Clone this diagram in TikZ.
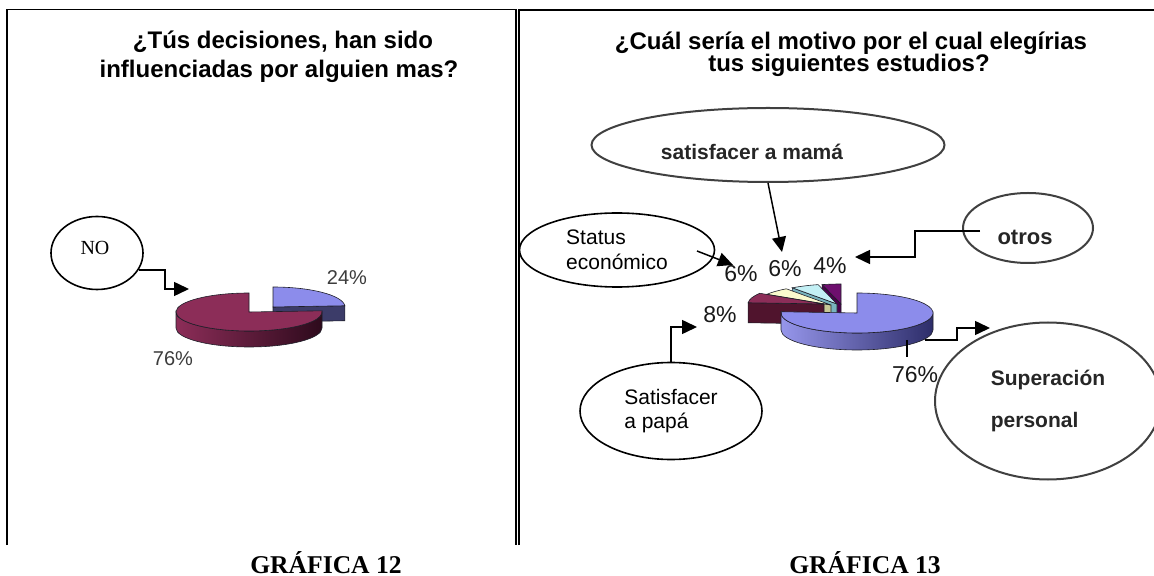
\documentclass[tikz,border=0pt]{standalone}
\usepackage{fontspec}
\setmainfont{Liberation Sans}
\newfontfamily\serifF{Liberation Serif}
\usetikzlibrary{shapes.geometric,arrows.meta,calc}
\definecolor{pieline}{RGB}{30,30,40}
\definecolor{bluT}{RGB}{140,140,235}
\definecolor{bluD}{RGB}{60,60,105}
\definecolor{bluL}{RGB}{150,150,235}
\definecolor{bluDD}{RGB}{45,45,105}
\definecolor{marT}{RGB}{140,45,88}
\definecolor{marL}{RGB}{140,45,88}
\definecolor{marD}{RGB}{45,10,28}
\definecolor{marF}{RGB}{80,20,45}
\definecolor{yelT}{RGB}{250,250,205}
\definecolor{yelF}{RGB}{200,200,150}
\definecolor{cyaT}{RGB}{195,240,245}
\definecolor{cyaF}{RGB}{120,180,190}
\definecolor{purT}{RGB}{110,15,110}
\definecolor{purF}{RGB}{75,0,75}
\definecolor{pcttext}{RGB}{60,60,60}
\newcommand\ptop[5]{\filldraw[fill=#5,draw=pieline,line width=0.3pt] (0,0) -- (#3:#1 and #2) arc[start angle=#3,end angle=#4,x radius=#1,y radius=#2] -- cycle;}
\newcommand\pside[6]{\path[#6,draw=pieline,line width=0.3pt] (#4:#1 and #2) arc[start angle=#4,end angle=#5,x radius=#1,y radius=#2] -- ++(0,-#3) arc[start angle=#5,end angle=#4,x radius=#1,y radius=#2] -- cycle;}
\newcommand\pface[5]{\filldraw[fill=#5,draw=pieline,line width=0.3pt] (0,0) -- (#4:#1 and #2) -- ++(0,-#3) -- (0,-#3) -- cycle;}
\newcommand\mv[3]{\raisebox{#2}[\height][\depth]{\hspace*{#1}#3\hspace*{-#1}}}
\begin{document}
\begin{tikzpicture}[x=0.5pt,y=-0.5pt,
  frame/.style={line width=0.8pt,black},
  title/.style={font=\fontsize{12}{14}\selectfont\bfseries,anchor=base,inner sep=0pt},
  pct/.style={font=\fontsize{10}{12}\selectfont,text=pcttext,anchor=base,inner sep=0pt},
  bigpct/.style={font=\fontsize{11.5}{13}\selectfont,text=black!90,anchor=base,inner sep=0pt},
  bubble/.style={ellipse,draw,line width=0.8pt,inner sep=0pt},
  softbubble/.style={ellipse,draw=black!75,line width=1pt,inner sep=0pt,text=black!85},
  arr/.style={line width=0.75pt,-{Triangle[length=7.5pt,width=7pt]}},
  caption/.style={font=\serifF\bfseries\fontsize{12.8}{14}\selectfont,anchor=base,inner sep=0pt}]
\useasboundingbox (0,0) rectangle (1154,576);
\clip (0,0) rectangle (1154,576);
% frames
\draw[frame] (7,545) -- (7,9.5) -- (516,9.5) -- (516,545);
\draw[frame] (519,545) -- (519,10) -- (1154,10);
% titles
\node[title] (t1a) at (283,49) {¿Tús decisiones, han sido};
\node[title] (t1b) at (279,78) {influenciadas por alguien mas?};
\node[title] (t2a) at (851,50) {¿Cuál sería el motivo por el cual elegírias};
\node[title] (t2b) at (849,72) {tus siguientes estudios?};
% left pie
\begin{scope}[shift={(273,307)},yscale=-1]
  \pface{72}{20}{15}{3.6}{bluD}
  \ptop{72}{20}{3.6}{90}{bluT}
\end{scope}
\begin{scope}[shift={(249,312)},yscale=-1]
  \pside{73}{19}{16}{180}{360}{left color=marL,right color=marD}
  \ptop{73}{19}{90}{363.6}{marT}
\end{scope}
\node[pct] (p24) at (347,285) {24\%};
\node[pct] (p76L) at (173,365) {76\%};
% right pie: small slices
\begin{scope}[shift={(841,304)},yscale=-1]
  \pface{76}{20}{19}{104.4}{purF}
  \ptop{76}{20}{90}{104.4}{purT}
\end{scope}
\begin{scope}[shift={(837,304)},yscale=-1]
  \pface{76}{20}{19}{126}{cyaF}
  \ptop{76}{20}{104.4}{126}{cyaT}
\end{scope}
\begin{scope}[shift={(831,305)},yscale=-1]
  \pface{76}{20}{19}{147.6}{yelF}
  \ptop{76}{20}{126}{147.6}{yelT}
\end{scope}
\begin{scope}[shift={(824,304)},yscale=-1]
  \pface{76}{20}{20}{176.4}{marF}
  \ptop{76}{20}{147.6}{176.4}{marT}
\end{scope}
\begin{scope}[shift={(857,313)},yscale=-1]
  \pside{76}{20}{17}{180}{360}{left color=bluL,right color=bluDD}
  \ptop{76}{20}{176.4}{450}{bluT}
\end{scope}
\node[bigpct] (p6a) at (741,282) {6\%};
\node[bigpct] (p6b) at (785,277) {6\%};
\node[bigpct] (p4) at (830,274) {4\%};
\node[bigpct] (p8) at (720,323) {8\%};
\node[bigpct] (p76R) at (915,383) {76\%};
% bubbles
\node[bubble,minimum width=46pt,minimum height=36.5pt,font=\serifF\fontsize{10}{12}\selectfont] (NO) at (97,253) {\mv{-1pt}{2.5pt}{NO}};
\node[softbubble,minimum width=176.5pt,minimum height=37pt,font=\fontsize{10.5}{12}\selectfont\bfseries] (mama) at (768,145) {\mv{-8pt}{-3.5pt}{satisfacer a mamá}};
\node[bubble,minimum width=97.5pt,minimum height=37pt,align=left,font=\fontsize{10.5}{12.5}\selectfont] (status) at (617,250) {Status\\económico};
\node[bubble,minimum width=91pt,minimum height=48.5pt,align=left,font=\fontsize{10.5}{12}\selectfont] (papa) at (671,411) {Satisfacer\\a papá};
\node[softbubble,minimum width=65pt,minimum height=35pt,font=\fontsize{11}{13}\selectfont\bfseries] (otros) at (1028,228) {\mv{-1.5pt}{-4.5pt}{otros}};
\node[softbubble,minimum width=113pt,minimum height=78.5pt,align=left,font=\fontsize{10.5}{21}\selectfont\bfseries] (super) at (1048,401) {Superación\\personal};
% connectors
\coordinate (noTip) at (189,289);
\draw[arr] (NO.-22) -| ($(noTip)+(-24,0)$) -- (noTip);
\coordinate (mamaTip) at (782,252);
\draw[arr] (mama.south) -- (mamaTip);
\coordinate (stTip) at (733,265);
\draw[arr] ($(status.center)+(80,1)$) -- (stTip);
\coordinate (papaTip) at (697,327);
\draw[arr] (papa.north) |- (papaTip);
\coordinate (otrosTip) at (855,257);
\draw[arr] ($(otros.center)+(-48,3)$) -| ($(otrosTip)+(60,0)$) -- (otrosTip);
\coordinate (supStart) at (925,340);
\coordinate (supTip) at (990,328);
\draw[arr] (supStart) -| ($(supTip)+(-33,0)$) -- (supTip);
\coordinate (lead) at (907,340);
\draw[line width=0.75pt] (lead) -- ($(lead)+(0,17)$);
% captions
\node[caption] (g12) at (326,573) {GRÁFICA 12};
\node[caption] (g13) at (865,573) {GRÁFICA 13};
\end{tikzpicture}
\end{document}
